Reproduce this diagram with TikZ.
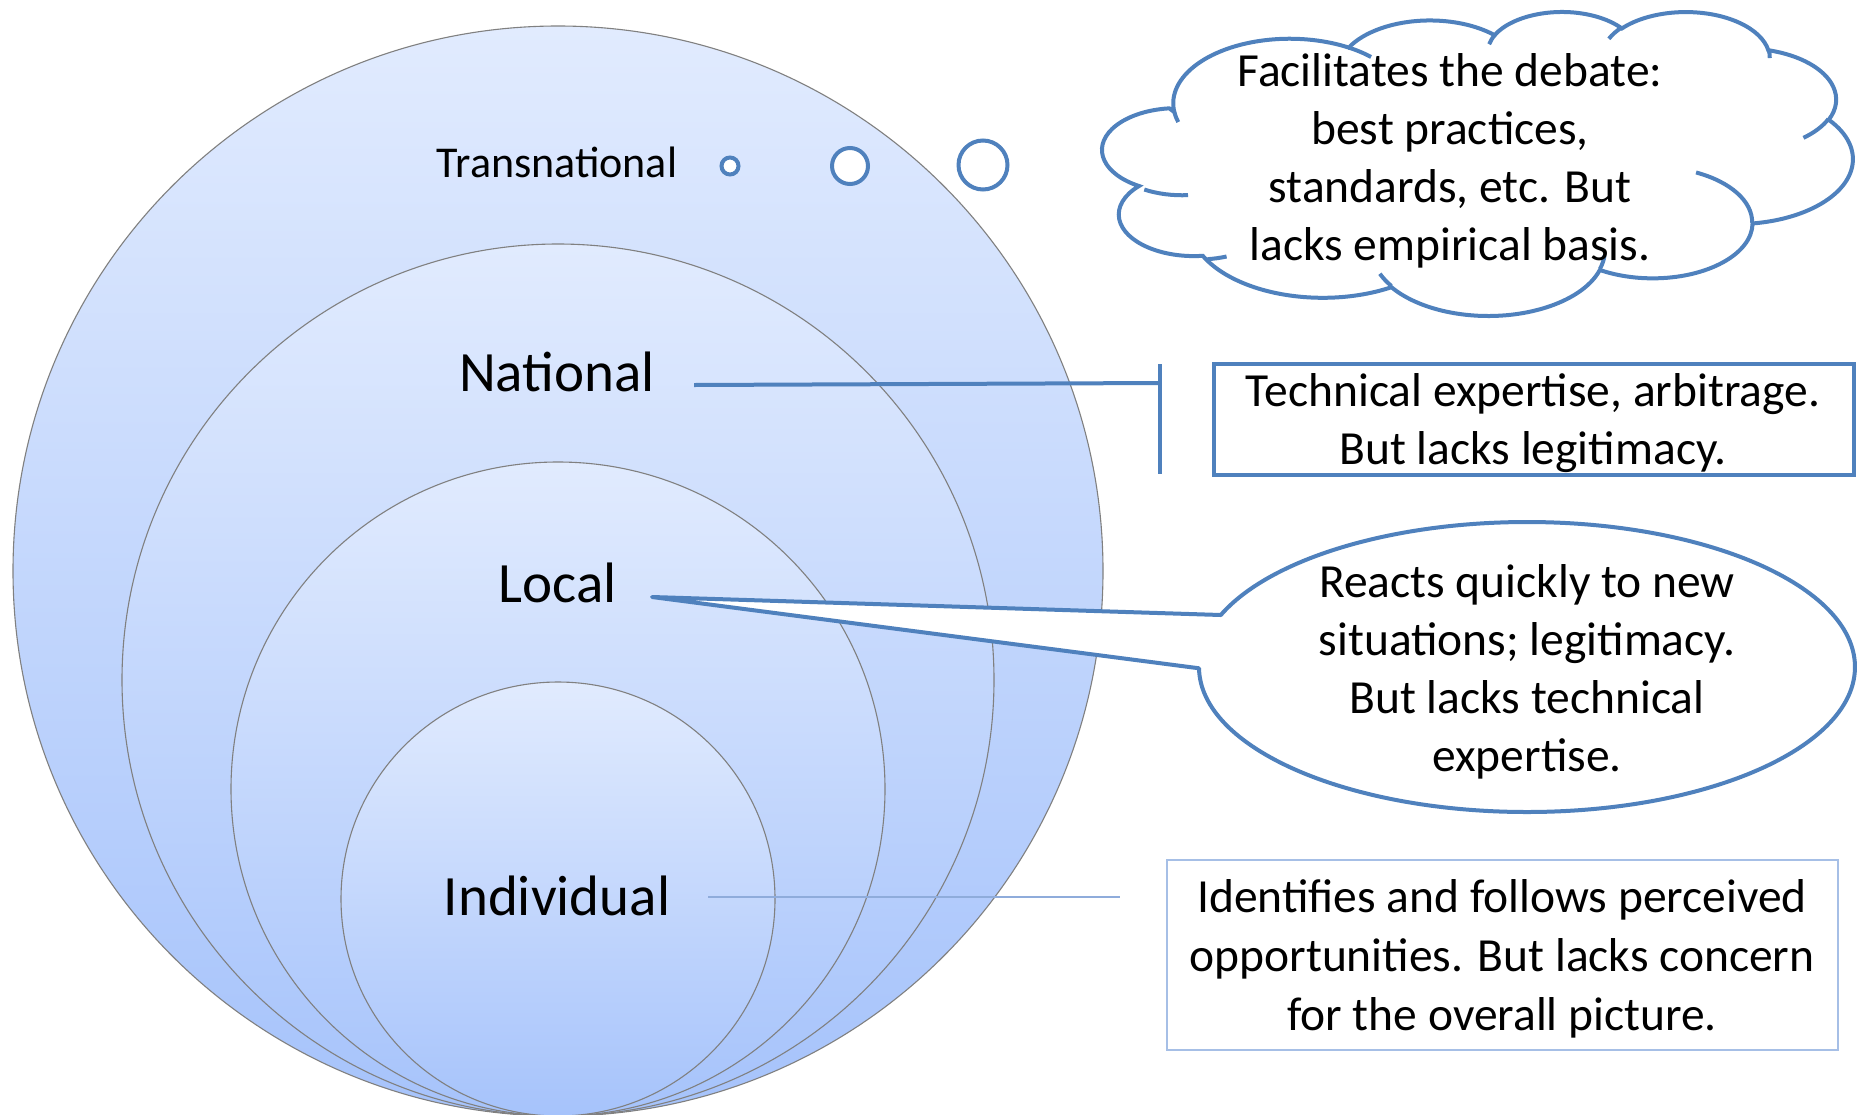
\documentclass[tikz,border=0pt]{standalone}
\usepackage{fontspec}
\setmainfont{Carlito}
\definecolor{cblue}{RGB}{79,129,189}
\definecolor{ctop}{RGB}{225,235,254}
\definecolor{cbot}{RGB}{166,195,251}
\definecolor{cring}{RGB}{128,128,128}
\definecolor{clight}{RGB}{143,172,219}
\definecolor{cboxl}{RGB}{166,191,230}
\begin{document}
\begin{tikzpicture}[x=1pt,y=-1pt,
  ring/.style={circle, inner sep=0pt, draw=cring, line width=1.1pt, top color=ctop, bottom color=cbot},
  lbl/.style={font=\fontsize{57}{68}\selectfont, inner sep=0pt},
  txt/.style={font=\fontsize{47.5}{58}\selectfont, align=center, inner sep=0pt},
  callline/.style={draw=cblue, line width=4pt},
  bubble/.style={circle, inner sep=0pt, draw=cblue, line width=4pt, fill=white},
  cloudline/.style={draw=cblue, line width=4pt},
]
\useasboundingbox (0,0) rectangle (1860,1114);
\fill[white] (0,0) rectangle (1860,1114);

% nested circles
\node[ring, minimum size=1090pt] (ctrans) at (558,571) {};
\node[ring, minimum size=872pt]  (cnat)   at (558,680) {};
\node[ring, minimum size=654pt]  (cloc)   at (558,789) {};
\node[ring, minimum size=434pt]  (cind)   at (558,899) {};

% labels
\node[inner sep=0pt, font=\fontsize{44}{52}\selectfont] (ltrans) at (557,162) {Transnational};
\node[lbl] (lnat) at (557,372) {National};
\node[lbl] (lloc) at (558,583) {Local};
\node[lbl] (lind) at (557,895.5) {Individual};

% thought bubbles
\node[bubble, minimum size=17pt] (b1) at (730,166) {};
\node[bubble, minimum size=36pt] (b2) at (850,166) {};
\node[bubble, minimum size=49pt] (b3) at (983,165) {};

% cloud
\begin{scope}[shift={(1107,11)}, x=0.17259pt, y=-0.070342pt]
\draw[cloudline, fill=white] (390,1437)
  arc[start angle=-187.745, end angle=-59.64, x radius=675.3, y radius=919.0]
  arc[start angle=-152.02, end angle=-45.46, x radius=533.3, y radius=726.7]
  arc[start angle=-153.50, end angle=-37.31, x radius=436.5, y radius=594.5]
  arc[start angle=-139.71, end angle=-10.21, x radius=485.7, y radius=659.5]
  arc[start angle=-74.77, end angle=23.21, x radius=533.3, y radius=727.3]
  arc[start angle=-37.52, end angle=81.86, x radius=677.5, y radius=922.0]
  arc[start angle=0.46, end angle=121.97, x radius=578.5, y radius=786.7]
  arc[start angle=16.84, end angle=146.23, x radius=675.2, y radius=921.5]
  arc[start angle=58.99, end angle=154.30, x radius=772.0, y radius=1054.3]
  arc[start angle=83.31, end angle=223.10, x radius=436.0, y radius=591.8]
  arc[start angle=120.36, end angle=264.11, x radius=434.5, y radius=594.5]
  -- cycle;
\draw[cloudline]
  (469.3,2617.7) arc[start angle=85.55, end angle=120.36, x radius=434.5, y radius=594.5]
  (692.8,3489.9) arc[start angle=68.24, end angle=83.31, x radius=436.0, y radius=591.8]
  (1647.8,3909.0) arc[start angle=146.23, end angle=158.47, x radius=675.2, y radius=921.5]
  (2882.7,3475.1) arc[start angle=4.74, end angle=16.84, x radius=675.2, y radius=921.5]
  (3412.9,2295.4) arc[start angle=-64.03, end angle=0.46, x radius=578.5, y radius=786.7]
  (4179.8,1535.4) arc[start angle=23.21, end angle=49.65, x radius=533.3, y radius=727.3]
  (3832.4,542.6) arc[start angle=-10.21, end angle=0.82, x radius=485.7, y radius=659.5]
  (2907.8,395.2) arc[start angle=-156.28, end angle=-139.71, x radius=485.7, y radius=659.5]
  (2214.1,472.0) arc[start angle=-167.73, end angle=-154.11, x radius=436.5, y radius=594.5]
  (1400.0,519.2) arc[start angle=-59.64, end angle=-45.74, x radius=675.3, y radius=919.0]
  (412.7,1578.9) arc[start angle=163.19, end angle=172.255, x radius=675.3, y radius=919.0];
\end{scope}
\node[txt] (tcloud) at (1450,160.5) {Facilitates the debate:\\best practices,\\standards, etc. But\\lacks empirical basis.};

% National: accent-bar callout
\coordinate (natA) at (694,385);
\coordinate (natB) at (1160,383);
\coordinate (barT) at (1160,364);
\coordinate (barB) at (1160,474);
\draw[callline] (natA) -- (natB);
\draw[callline] (barT) -- (barB);
\node[draw=cblue, line width=4pt, fill=white, minimum width=640pt, minimum height=111pt, inner sep=0pt] (bnat) at (1534,419.5) {};
\node[txt] (tnat) at (1533,423) {Technical expertise, arbitrage.\\But lacks legitimacy.};

% Local: wedge ellipse callout
\coordinate (ltip) at (652,597);
\coordinate (lA) at (1220.8,615.0);
\coordinate (lB) at (1199.0,668.27);
\draw[cloudline, fill=white, line join=round] (lA) -- (ltip) -- (lB)
  arc[start angle=179.5, end angle=-158.98, x radius=328, y radius=145] -- cycle;
\node[txt] (tloc) at (1527,671.5) {Reacts quickly to new\\situations; legitimacy.\\But lacks technical\\expertise.};

% Individual: line callout
\coordinate (indA) at (708,897);
\coordinate (indB) at (1120,897);
\draw[draw=clight, line width=2.5pt] (indA) -- (indB);
\node[draw=cboxl, line width=2pt, fill=white, minimum width=671pt, minimum height=190pt, inner sep=0pt] (bind) at (1502.5,955) {};
\node[txt, font=\fontsize{47.5}{59}\selectfont] (tind) at (1502,959) {Identifies and follows perceived\\opportunities. But lacks concern\\for the overall picture.};
\end{tikzpicture}
\end{document}
